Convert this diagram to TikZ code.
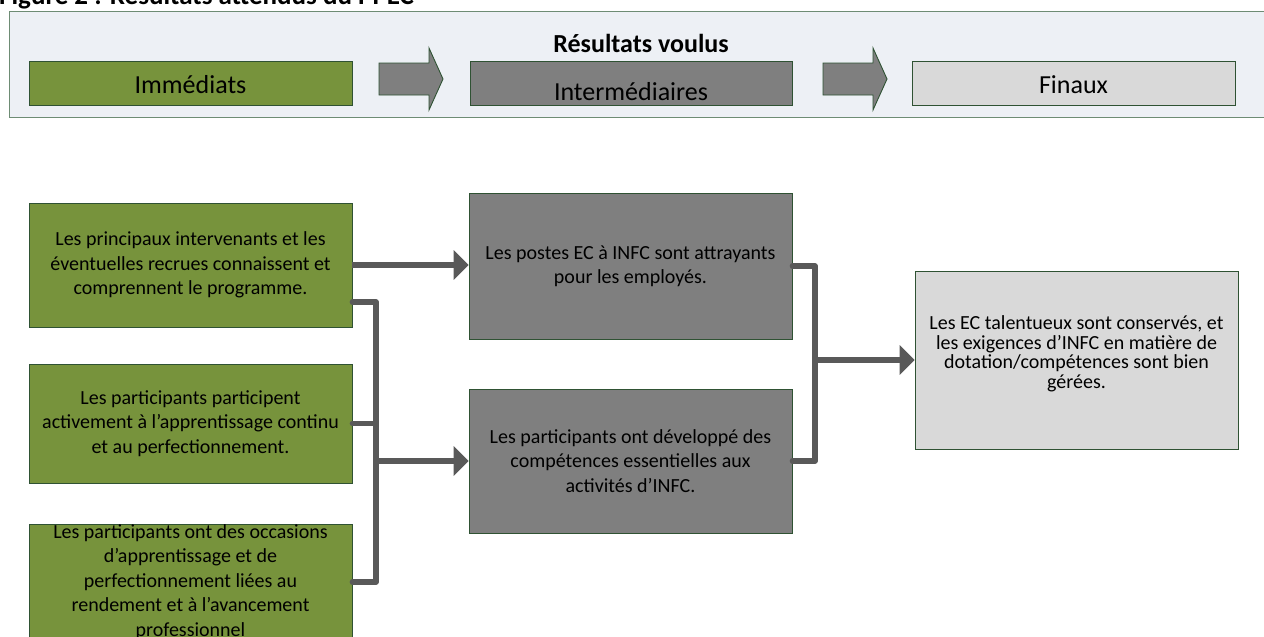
\documentclass[tikz,border=0pt]{standalone}
\usepackage{fontspec}
\setmainfont{Carlito}
\usetikzlibrary{arrows.meta,calc}
\definecolor{cgreen}{HTML}{77933C}
\definecolor{cgray}{HTML}{7F7F7F}
\definecolor{clight}{HTML}{D9D9D9}
\definecolor{cborder}{HTML}{2F5233}
\definecolor{cbanner}{HTML}{EDF0F5}
\definecolor{cbannerline}{HTML}{6E8C74}
\definecolor{cconn}{HTML}{595959}
\begin{document}
\begin{tikzpicture}[x=1pt,y=-1pt,
  box/.style={draw=cborder, line width=0.9pt, inner sep=0pt, align=center,
    minimum width=323pt, font=\fontsize{20}{24.4}\selectfont},
  greenbox/.style={box, fill=cgreen},
  graybox/.style={box, fill=cgray},
  lightbox/.style={box, fill=clight},
  toplabel/.style={anchor=base, inner sep=0pt, font=\fontsize{26}{30}\selectfont},
  blockarrow/.style={draw=cborder, line width=0.9pt, fill=cgray, line join=miter},
  conn/.style={draw=cconn, line width=5.5pt, line cap=round, line join=round},
  arr/.style={conn, -{Triangle[length=15pt,width=29pt]}, line cap=butt}
]
\useasboundingbox (0,0) rectangle (1264,637);

% title (cut off at the top)
\node[anchor=base west, inner sep=0pt, font=\bfseries\fontsize{27}{30}\selectfont] (title) at (-1,5) {Figure 2 : Résultats attendus du PPEC};

% banner
\node[draw=cbannerline, fill=cbanner, line width=1pt, minimum width=1261pt, minimum height=106pt, inner sep=0pt] (banner) at (639.5,64) {};
\node[draw=cborder, fill=cgreen, line width=0.9pt, minimum width=323pt, minimum height=44pt, inner sep=0pt] (imm) at (190.5,83) {};
\node[draw=cborder, fill=cgray, line width=0.9pt, minimum width=322pt, minimum height=44pt, inner sep=0pt] (inter) at (631,83) {};
\node[draw=cborder, fill=clight, line width=0.9pt, minimum width=323pt, minimum height=44pt, inner sep=0pt] (fin) at (1073.5,83) {};
\node[toplabel] (immtxt) at (190.5,93) {Immédiats};
\node[toplabel] (intertxt) at (631,100) {Intermédiaires};
\node[toplabel] (fintxt) at (1073.5,93) {Finaux};
\node[toplabel, font=\bfseries\fontsize{26}{30}\selectfont] (voulus) at (641,52) {Résultats voulus};

\draw[blockarrow] (379,63) -- (429,63) -- (429,48) -- (443,79) -- (429,110) -- (429,95) -- (379,95) -- cycle;
\draw[blockarrow] (823,63) -- (873,63) -- (873,48) -- (887,79) -- (873,110) -- (873,95) -- (823,95) -- cycle;

% immediate outcomes
\node[greenbox, minimum height=124pt] (g1) at (190.5,265) {Les principaux intervenants et les\\éventuelles recrues connaissent et\\comprennent le programme.};
\node[greenbox, minimum height=119pt] (g2) at (190.5,423.5) {Les participants participent\\activement à l’apprentissage continu\\et au perfectionnement.};
\node[greenbox, minimum height=116pt] (g3) at (190.5,582) {Les participants ont des occasions\\d’apprentissage et de\\perfectionnement liées au\\rendement et à l’avancement\\professionnel};

% intermediate outcomes
\node[graybox, minimum height=146pt] (d1) at (630.5,266) {Les postes EC à INFC sont attrayants\\pour les employés.};
\node[graybox, minimum height=144pt] (d2) at (630.5,461) {Les participants ont développé des\\compétences essentielles aux\\activités d’INFC.};

% final outcome
\node[lightbox, minimum height=178pt, text depth=16pt, font=\fontsize{20}{19.6}\selectfont] (f) at (1076.5,360) {Les EC talentueux sont conservés, et\\les exigences d’INFC en matière de\\dotation/compétences sont bien\\gérées.};

% connectors left
\coordinate (g1b) at ($(g1.east)+(0,37)$);
\coordinate (busL) at (376,0);
\draw[arr] (g1.east) -- (g1.east -| d1.west);
\draw[conn] (g1b) -- (g1b -| busL) -- (busL |- g3.east) -- (g3.east);
\draw[conn] (g2.east) -- (g2.east -| busL);
\draw[arr] (busL |- d2.west) -- (d2.west);

% connectors right
\coordinate (busR) at (815,0);
\draw[conn] (d1.east) -- (d1.east -| busR) -- (busR |- d2.east) -- (d2.east);
\draw[arr] (busR |- f.west) -- (f.west);
\end{tikzpicture}
\end{document}
